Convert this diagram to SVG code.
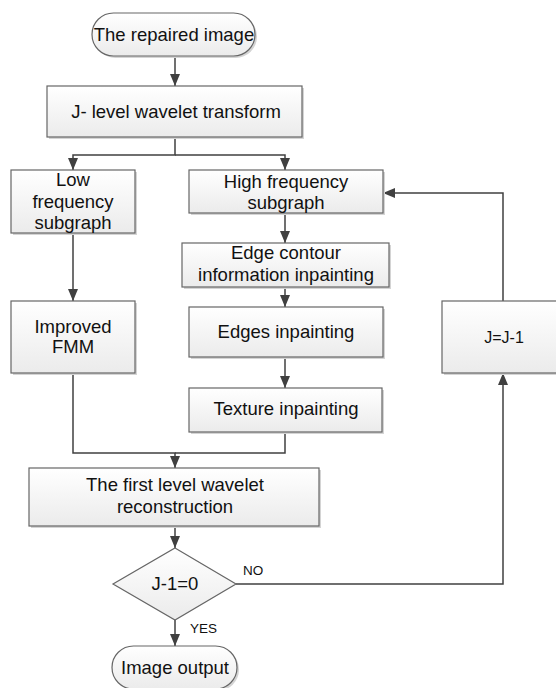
<svg xmlns="http://www.w3.org/2000/svg" width="556" height="688" viewBox="0 0 556 688">
<defs>
<linearGradient id="g" x1="0" y1="0" x2="0" y2="1">
<stop offset="0" stop-color="#ffffff"/>
<stop offset="1" stop-color="#ebebeb"/>
</linearGradient>
<marker id="ah" markerUnits="userSpaceOnUse" markerWidth="12" markerHeight="10" refX="12" refY="5" orient="auto">
<path d="M0,0 L12,5 L0,10 Z" fill="#404040"/>
</marker>
</defs>
<style>
.b{fill:url(#g);stroke:#666;stroke-width:1.2}
.s{fill:#d4d4d4;stroke:none}
.t{font-family:"Liberation Sans",Arial,sans-serif;font-size:18.5px;fill:#111;text-anchor:middle}
.sm{font-family:"Liberation Sans",Arial,sans-serif;font-size:13.5px;fill:#111}
.c{fill:none;stroke:#404040;stroke-width:1.5}
.a{marker-end:url(#ah)}
</style>
<rect width="556" height="688" fill="#fff"/>
<g id="connectors">
<path class="c a" d="M175,56 V86"/>
<path class="c a" d="M175,137 V155 H73 V170"/>
<path class="c a" d="M175,155 H285 V170"/>
<path class="c a" d="M285,213 V243"/>
<path class="c a" d="M285,287 V307"/>
<path class="c a" d="M285,357 V388"/>
<path class="c a" d="M73,233 V301"/>
<path class="c a" d="M73,373 V453 H175 V468"/>
<path class="c" d="M285,432 V453 H175"/>
<path class="c a" d="M175,526 V548"/>
<path class="c a" d="M175,620 V646"/>
<path class="c a" d="M236,584 H503 V373"/>
<path class="c a" d="M503,301 V193 H383"/>
</g>
<g id="start">
<rect class="s" x="94" y="15" width="163" height="43" rx="21.5"/>
<rect class="b" x="92" y="13" width="163" height="43" rx="21.5"/>
<text class="t" x="174" y="41">The repaired image</text>
</g>
<g id="wavelet">
<rect class="s" x="49" y="88" width="255" height="51"/>
<rect class="b" x="47" y="86" width="255" height="51"/>
<text class="t" x="176" y="118">J- level wavelet transform</text>
</g>
<g id="low">
<rect class="s" x="13" y="172" width="124" height="63"/>
<rect class="b" x="11" y="170" width="124" height="63"/>
<text class="t" x="73" y="186">Low</text>
<text class="t" x="73" y="208">frequency</text>
<text class="t" x="73" y="229">subgraph</text>
</g>
<g id="high">
<rect class="s" x="191" y="172" width="194" height="43"/>
<rect class="b" x="189" y="170" width="194" height="43"/>
<text class="t" x="286" y="188">High frequency</text>
<text class="t" x="286" y="209">subgraph</text>
</g>
<g id="edgecontour">
<rect class="s" x="184" y="245" width="207" height="44"/>
<rect class="b" x="182" y="243" width="207" height="44"/>
<text class="t" x="286" y="259">Edge contour</text>
<text class="t" x="286" y="281">information inpainting</text>
</g>
<g id="edges">
<rect class="s" x="191" y="309" width="194" height="50"/>
<rect class="b" x="189" y="307" width="194" height="50"/>
<text class="t" x="286" y="338">Edges inpainting</text>
</g>
<g id="texture">
<rect class="s" x="191" y="390" width="193" height="44"/>
<rect class="b" x="189" y="388" width="193" height="44"/>
<text class="t" x="286" y="415">Texture inpainting</text>
</g>
<g id="fmm">
<rect class="s" x="13" y="303" width="124" height="72"/>
<rect class="b" x="11" y="301" width="124" height="72"/>
<text class="t" x="73" y="333">Improved</text>
<text class="t" x="73" y="353">FMM</text>
</g>
<g id="jminus">
<rect class="s" x="444" y="303" width="124" height="72"/>
<rect class="b" x="442" y="301" width="124" height="72"/>
<text class="t" x="504" y="343" style="font-size:16px">J=J-1</text>
</g>
<g id="reconstruction">
<rect class="s" x="31" y="470" width="290" height="58"/>
<rect class="b" x="29" y="468" width="290" height="58"/>
<text class="t" x="175" y="491">The first level wavelet</text>
<text class="t" x="175" y="513">reconstruction</text>
</g>
<g id="decision">
<polygon class="b" points="175,548 236,584 175,620 113,584"/>
<text class="t" x="175" y="590">J-1=0</text>
<text class="sm" x="243" y="575">NO</text>
<text class="sm" x="190" y="633">YES</text>
</g>
<g id="output">
<rect class="s" x="114" y="648" width="125" height="43" rx="21.5"/>
<rect class="b" x="112" y="646" width="125" height="43" rx="21.5"/>
<text class="t" x="175" y="674">Image output</text>
</g>
</svg>
